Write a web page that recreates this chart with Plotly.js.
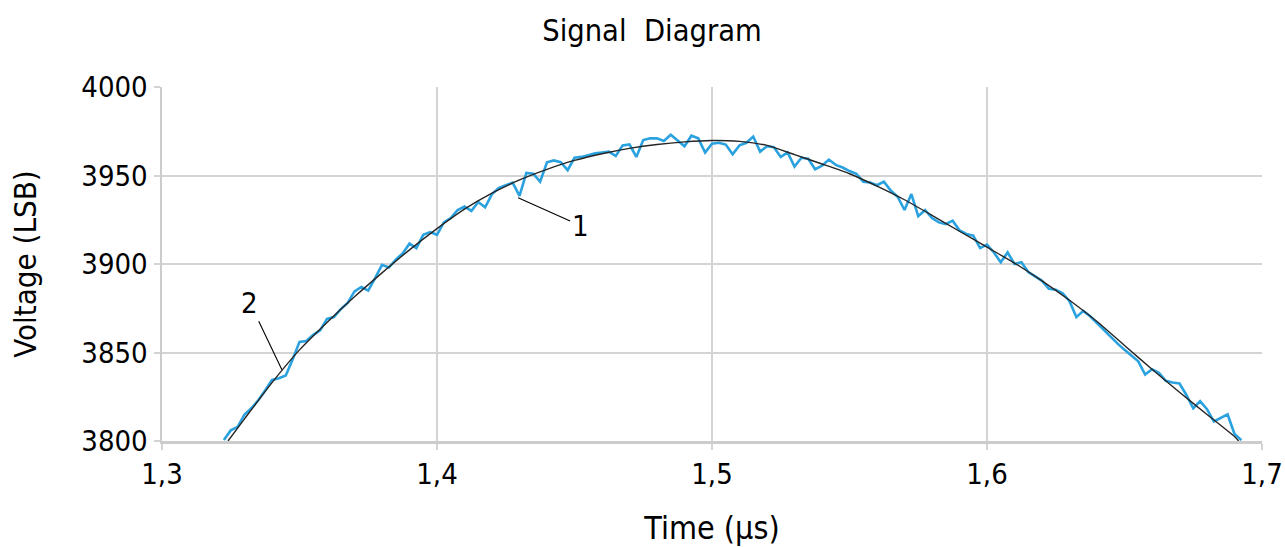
<!DOCTYPE html>
<html>
<head>
<meta charset="utf-8">
<script src="https://cdn.plot.ly/plotly-3.0.1.min.js"></script>
<style>html,body{margin:0;padding:0;background:#fff;}#chart{width:1285px;height:547px;}</style>
</head>
<body>
<div id="chart"></div>
<script>
// Series 1: measured (noisy) signal
const measuredTime = [1.3225,1.325,1.3275,1.33,1.3325,1.335,1.3375,1.34,1.3425,1.345,1.3475,1.35,1.3525,1.355,1.3575,1.36,1.3625,1.365,1.3675,1.37,1.3725,1.375,1.3775,1.38,1.3825,1.385,1.3875,1.39,1.3925,1.395,1.3975,1.40,1.4025,1.405,1.4075,1.41,1.4125,1.415,1.4175,1.42,1.4225,1.425,1.4275,1.43,1.4325,1.435,1.4375,1.44,1.4425,1.445,1.4475,1.45,1.4525,1.455,1.4575,1.46,1.4625,1.465,1.4675,1.47,1.4725,1.475,1.4775,1.48,1.4825,1.485,1.4875,1.49,1.4925,1.495,1.4975,1.50,1.5025,1.505,1.5075,1.51,1.5125,1.515,1.5175,1.52,1.5225,1.525,1.5275,1.53,1.5325,1.535,1.5375,1.54,1.5425,1.545,1.5475,1.55,1.5525,1.555,1.5575,1.56,1.5625,1.565,1.5675,1.57,1.5725,1.575,1.5775,1.58,1.5825,1.585,1.5875,1.59,1.5925,1.595,1.5975,1.60,1.6025,1.605,1.6075,1.61,1.6125,1.615,1.6175,1.62,1.6225,1.625,1.6275,1.63,1.6325,1.635,1.6375,1.64,1.6425,1.645,1.6475,1.65,1.6525,1.655,1.6575,1.66,1.6625,1.665,1.6675,1.67,1.6725,1.675,1.6775,1.68,1.6825,1.685,1.6875,1.69,1.6925];
const measuredVoltage = [3800.5,3806,3808,3815,3818.5,3823,3828.5,3834.5,3835.5,3837,3846,3856,3856.5,3860,3862.5,3869,3870,3874.5,3878,3884.5,3887,3885,3892,3899.5,3898,3902.5,3906,3911.5,3909,3916.5,3918,3916.5,3923.5,3926,3930.5,3932.5,3930,3935,3932,3939.5,3943,3944.5,3946,3938.5,3951.5,3951,3946.5,3957.5,3958.5,3957.5,3953,3960,3960.5,3961.5,3962.5,3963,3963.5,3961,3967,3967.5,3960.5,3970,3971,3971,3969.5,3973,3970,3966.5,3972.5,3971,3963,3968,3968.5,3967.5,3962,3967,3968.5,3972,3963.5,3966.5,3966,3960.5,3963,3955,3960,3959.5,3953.5,3955.5,3959,3956,3954.5,3952.5,3951,3946.5,3946,3944.5,3946.5,3941.5,3938,3930.5,3939.5,3927,3930.5,3926,3923.5,3922.5,3924.5,3919,3917,3916,3909,3911,3906.5,3901,3906.5,3900,3901,3895.5,3893,3890.5,3886,3885.5,3883.5,3879,3870,3873.5,3870.5,3866.5,3862.5,3859,3855,3851.5,3848,3845,3837.5,3840.5,3838.5,3834,3833,3832.5,3826,3818.5,3822.5,3818,3811,3813,3815,3804,3800.5];

// Series 2: smooth (fitted) signal
const fittedTime = [1.324,1.33,1.34,1.35,1.36,1.37,1.38,1.39,1.40,1.41,1.42,1.43,1.44,1.45,1.46,1.47,1.48,1.49,1.50,1.51,1.52,1.53,1.54,1.55,1.56,1.57,1.58,1.59,1.60,1.61,1.62,1.63,1.64,1.65,1.66,1.67,1.68,1.69,1.6915];
const fittedVoltage = [3800,3812.5,3833,3851.5,3867,3881.5,3895,3908,3920,3931,3940,3947.5,3953.5,3958.5,3962.3,3965.3,3967.5,3969,3969.8,3969.3,3967,3961.8,3956.5,3951,3944,3936.3,3927.5,3918.5,3909.5,3900.5,3890.5,3879.5,3867.5,3854,3840.5,3827.5,3815,3802.5,3800];

// Curve labels
const labelText = ["1", "2"];
const labelTime = [1.4295, 1.3436];
const labelVoltage = [3937.5, 3840.3];

const FONT = "DejaVu Sans Condensed, DejaVu Sans, sans-serif";

const traces = [
  {x: measuredTime, y: measuredVoltage, type: "scatter", mode: "lines",
   line: {color: "#2aa2df", width: 2.6}, hoverinfo: "skip"},
  {x: fittedTime, y: fittedVoltage, type: "scatter", mode: "lines",
   line: {color: "#262626", width: 1.4, shape: "spline", smoothing: 0.6}, hoverinfo: "skip"}
];

const annOffsets = [[62, 28], [-32, -67]];
const annotations = labelText.map((t, i) => ({
  x: labelTime[i], y: labelVoltage[i], xref: "x", yref: "y",
  text: t, showarrow: true, arrowhead: 0, arrowwidth: 1.1, arrowcolor: "#000",
  ax: annOffsets[i][0], ay: annOffsets[i][1], standoff: 0,
  font: {family: FONT, size: 29, color: "#000"}
}));

const layout = {
  width: 1285, height: 547,
  paper_bgcolor: "#fff", plot_bgcolor: "#fff",
  separators: ",.",
  showlegend: false,
  margin: {l: 162, r: 23, t: 87, b: 106},
  font: {family: FONT, size: 29, color: "#000"},
  title: {text: "Signal\u00A0 Diagram", xref: "container", x: 0.5074, xanchor: "center",
          yref: "container", y: 0.945, yanchor: "middle",
          font: {family: FONT, size: 30.5, color: "#000"}},
  xaxis: {
    range: [1.3, 1.7], dtick: 0.1, tick0: 1.3, tickformat: ".1f",
    showgrid: true, gridcolor: "#d4d4d4", gridwidth: 2,
    showline: true, linecolor: "#cccccc", linewidth: 2.5,
    ticks: "outside", ticklen: 6, tickwidth: 2, tickcolor: "#d4d4d4",
    zeroline: false,
    tickfont: {family: FONT, size: 29, color: "#000"},
    title: {text: "Time (μs)", standoff: 28, font: {family: FONT, size: 32, color: "#000"}}
  },
  yaxis: {
    range: [3800, 4000], dtick: 50, tick0: 3800,
    showgrid: true, gridcolor: "#d4d4d4", gridwidth: 2,
    showline: true, linecolor: "#cccccc", linewidth: 2.5,
    ticks: "outside", ticklen: 6, tickwidth: 2, tickcolor: "#d4d4d4",
    zeroline: false,
    tickfont: {family: FONT, size: 29, color: "#000"},
    title: {text: "Voltage (LSB)", standoff: 36, font: {family: FONT, size: 31, color: "#000"}}
  },
  annotations: annotations
};

Plotly.newPlot("chart", traces, layout, {displayModeBar: false, staticPlot: true});
</script>
</body>
</html>
